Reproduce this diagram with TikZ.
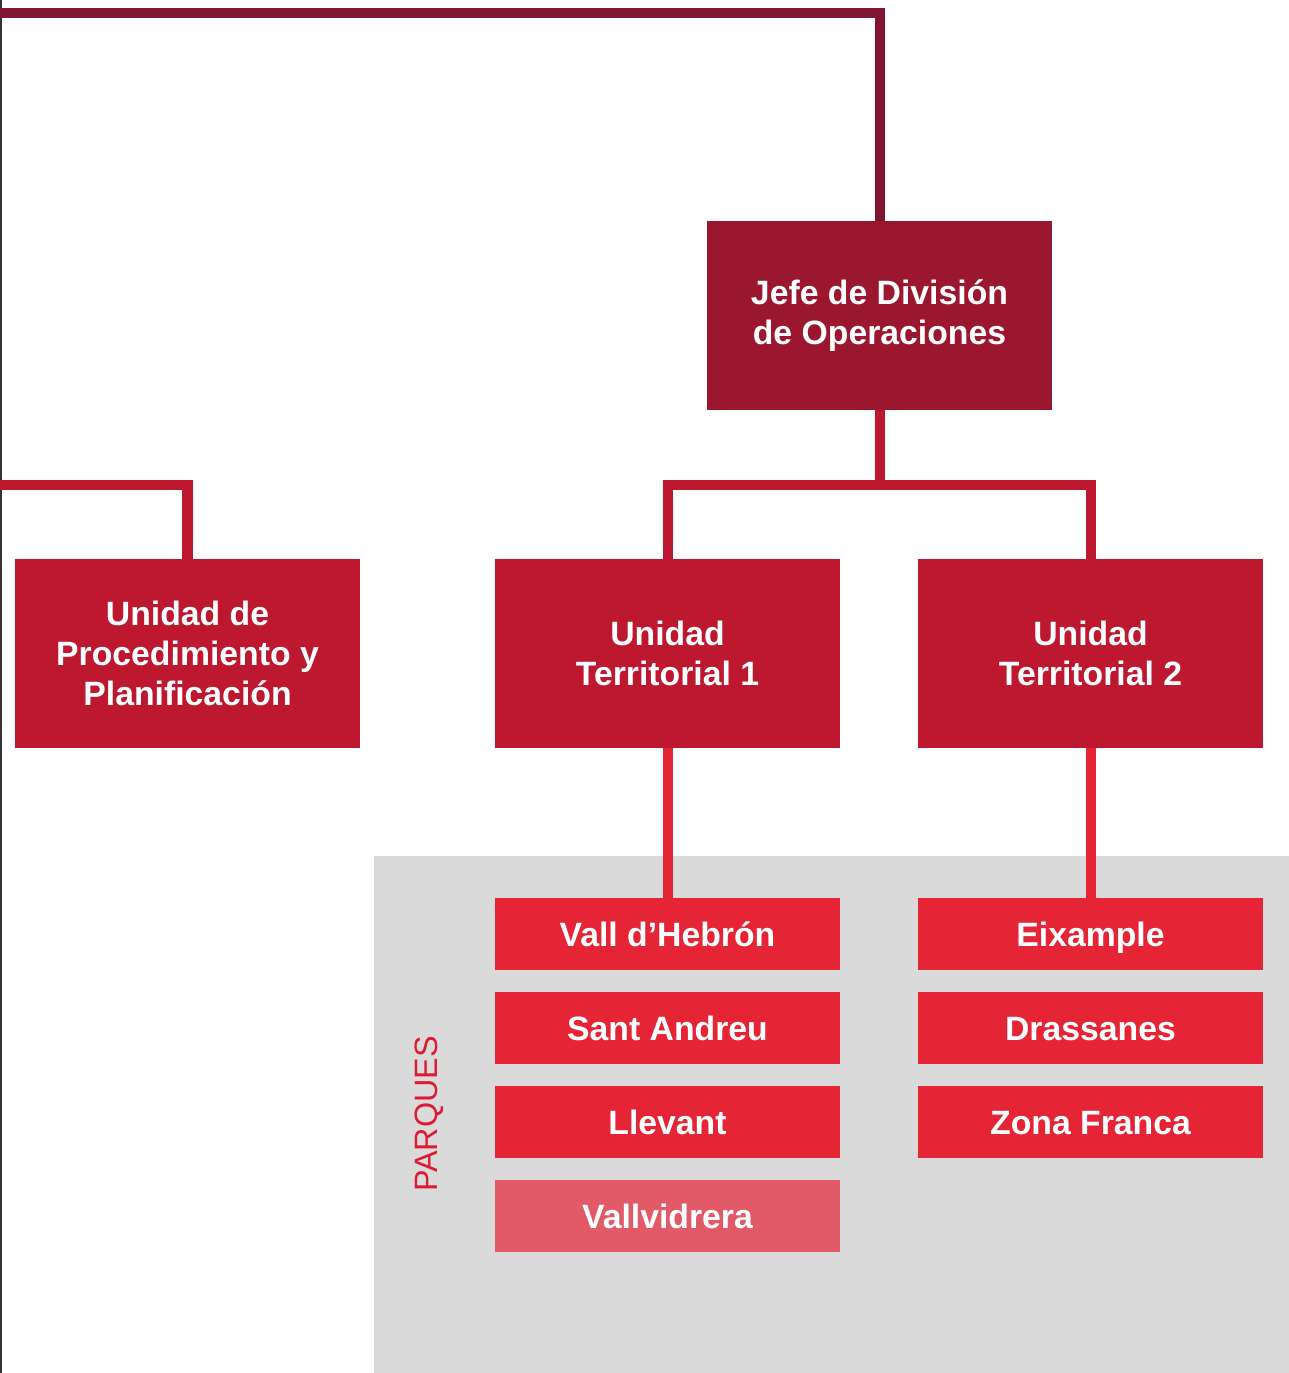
\documentclass[tikz,border=0pt]{standalone}
\usepackage{fontspec}
\setmainfont{Liberation Sans}
\usepackage{tikz}
\usetikzlibrary{positioning}
\usepackage{xcolor}

\definecolor{topline}{HTML}{7F1530}
\definecolor{jefered}{HTML}{9B172F}
\definecolor{unidadred}{HTML}{BE1830}
\definecolor{parquered}{HTML}{E52535}
\definecolor{vallvred}{HTML}{E25A68}
\definecolor{labelred}{HTML}{DE1A32}
\definecolor{parquegray}{HTML}{DADADA}

\begin{document}
\begin{tikzpicture}[x=0.01cm, y=-0.01cm, node distance=0.22cm, auto]

% Styles for boxes
\tikzstyle{box} = [rectangle, fill=unidadred, text=white, align=center, inner sep=0pt, outer sep=0pt, minimum width=3.45cm, minimum height=1.89cm, font=\bfseries\fontsize{9.6}{11.4}\selectfont]
\tikzstyle{parque} = [rectangle, fill=parquered, text=white, inner sep=0pt, outer sep=0pt, minimum width=3.45cm, minimum height=0.72cm, text height=8.5pt, text depth=1.5pt, font=\bfseries\fontsize{9.6}{11.4}\selectfont]
\tikzstyle{link} = [line width=0.1cm, unidadred]

\useasboundingbox (0,0) rectangle (1289,1373);

% Background of the parques
\fill[parquegray] (374,856) rectangle (1289,1373);

% Nodes
\node [box, fill=jefered] (jefe) at (879.5,315.5) {Jefe de División\\de Operaciones};
\node [box] (upp) at (187.5,653.5) {Unidad de\\Procedimiento y\\Planificación};
\node [box] (ut1) at (667.5,653.5) {Unidad\\Territorial 1};
\node [box] (ut2) at (1090.5,653.5) {Unidad\\Territorial 2};

\node [parque] (vall) at (667.5,934) {Vall d’Hebrón};
\node [parque, below=of vall] (sant) {Sant Andreu};
\node [parque, below=of sant] (llev) {Llevant};
\node [parque, fill=vallvred, below=of llev] (vallv) {Vallvidrera};

\node [parque] (eix) at (1090.5,934) {Eixample};
\node [parque, below=of eix] (dras) {Drassanes};
\node [parque, below=of dras] (zona) {Zona Franca};

\node [rotate=90, text=labelred, font=\fontsize{9.2}{11}\selectfont] (parques) at (429,1114) {PARQUES};

% Edges
\coordinate (topin) at (0,13);
\coordinate (leftin) at (0,485);
\coordinate (bus) at (879.5,485);
\coordinate (edgetop) at (1,0);
\coordinate (edgebot) at (1,1373);

\draw[gray!40!black, line width=0.02cm] (edgetop) -- (edgebot);
\draw[link, topline] (topin) -| (jefe.north);
\draw[link] (jefe.south) -- (bus);
\draw[link] (ut1.north) |- (bus) -| (ut2.north);
\draw[link] (leftin) -| (upp.north);
\draw[link, parquered] (ut1.south) -- (vall.north);
\draw[link, parquered] (ut2.south) -- (eix.north);

\end{tikzpicture}
\end{document}
